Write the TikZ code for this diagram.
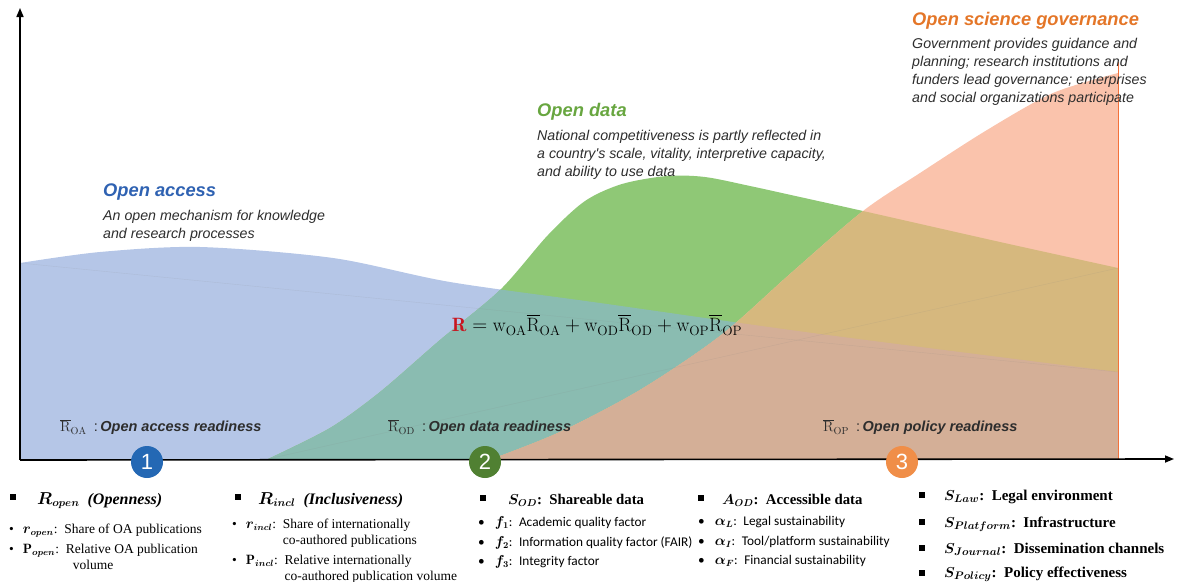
\documentclass[tikz,border=0pt]{standalone}
\usepackage{fontspec}
\usepackage{amsmath}
\usepackage{bm}
\usetikzlibrary{arrows.meta,positioning}
\newfontfamily\robo{Liberation Sans}
\newfontfamily\tnr{Liberation Serif}
\newfontfamily\cali{Carlito}

\definecolor{oaFill}{RGB}{181,198,231}
\definecolor{odFill}{RGB}{143,200,118}
\definecolor{opFill}{RGB}{250,195,172}
\definecolor{oaodMix}{RGB}{138,188,177}
\definecolor{odopMix}{RGB}{214,184,126}
\definecolor{allMix}{RGB}{212,175,151}
\definecolor{oaTitle}{RGB}{47,98,178}
\definecolor{odTitle}{RGB}{104,166,64}
\definecolor{opTitle}{RGB}{228,118,40}
\definecolor{oaDot}{RGB}{36,104,180}
\definecolor{odDot}{RGB}{80,128,50}
\definecolor{opDot}{RGB}{240,142,72}
\definecolor{txtgray}{RGB}{45,45,45}
\definecolor{rRed}{RGB}{200,20,30}

\newcommand{\oaShape}{(20,459) -- plot[smooth] coordinates {(20,263) (100,252) (200,247) (333,258) (450,282) (600,303) (820,334) (1118,372)} -- (1118,459) -- cycle}
\newcommand{\odShape}{plot[smooth] coordinates {(268,459) (330,428) (380,392) (440,340) (500,290) (548,235) (585,201) (622,184) (667,176) (705,177) (750,186) (800,197) (863,211) (1000,242) (1118,268)} -- (1118,459) -- cycle}
\newcommand{\opShape}{plot[smooth] coordinates {(492,459) (560,432) (640,390) (720,336) (790,274) (863,211) (920,173) (987,130) (1053,93) (1118,73)} -- (1118,459) -- cycle}

\tikzset{
  title/.style={anchor=west, inner sep=0pt, font=\robo\bfseries\itshape\fontsize{18.3}{20}\selectfont},
  desc/.style={anchor=north west, inner sep=0pt, align=left, text=txtgray, font=\robo\itshape\fontsize{14.2}{18}\selectfont},
  ready/.style={anchor=west, inner sep=0pt, text=txtgray, font=\fontsize{14.5}{16}\selectfont},
  stage/.style={circle, inner sep=0pt, minimum size=32pt, text=white, font=\robo\fontsize{22}{22}\selectfont},
  axis/.style={line width=1.6pt, -{Triangle[length=9pt,width=7pt]}},
  sqbul/.style={fill=black, inner sep=0pt, minimum size=6pt},
  head/.style={anchor=base west, inner sep=0pt, font=\tnr\bfseries\fontsize{16}{19}\selectfont},
  dhead/.style={head, font=\tnr\bfseries\fontsize{14.8}{18}\selectfont},
  phead/.style={head, font=\tnr\bfseries\fontsize{15}{18}\selectfont},
  item/.style={anchor=base west, inner sep=0pt, font=\tnr\fontsize{13.5}{16}\selectfont},
  citem/.style={anchor=base west, inner sep=0pt, font=\cali\fontsize{13.3}{16}\selectfont}
}

\begin{document}
\begin{tikzpicture}[x=1pt, y=-1pt]
\useasboundingbox (0,0) rectangle (1177,581);

% overlapping areas
\fill[oaFill] \oaShape;
\fill[odFill] \odShape;
\begin{scope}
  \clip \oaShape;
  \fill[oaodMix] \odShape;
\end{scope}
\fill[opFill] \opShape;
\begin{scope}
  \clip \opShape;
  \fill[odopMix] \odShape;
  \fill[allMix] \oaShape;
\end{scope}
\draw[gray, opacity=.15] (20,263) -- (1118,372);
\draw[gray, opacity=.15] (268,459) -- (1118,268);
\draw[opDot!80!red, line width=.8pt] (1118,62) -- (1118,459);

% axes
\coordinate (origin) at (20,460);
\coordinate (ytop) at (20,8);
\coordinate (xend) at (1174,459);
\draw[axis] (origin) -- (ytop);
\draw[axis] (origin) -- (xend);

\node[stage, fill=oaDot] (s1) at (147,462) {1};
\node[stage, fill=odDot] (s2) at (485,462) {2};
\node[stage, fill=opDot] (s3) at (902,462) {3};

% titles
\node[title, text=oaTitle] (oa) at (103,192) {Open access};
\node[desc] (oadesc) at (103,210) {An open mechanism for knowledge\\and research processes};
\node[title, text=odTitle] (od) at (537,112) {Open data};
\node[desc] (oddesc) at (537,130) {National competitiveness is partly reflected in\\a country's scale, vitality, interpretive capacity,\\and ability to use data};
\node[title, text=opTitle] (op) at (912,21) {Open science governance};
\node[desc] (opdesc) at (912,38) {Government provides guidance and\\planning; research institutions and\\funders lead governance; enterprises\\and social organizations participate};

\node[font=\fontsize{19.3}{22}\selectfont] (formula) at (597,325) {$\textcolor{rRed}{\mathbf{R}}=\mathrm{w}_{\mathrm{OA}}\overline{\mathrm{R}}_{\mathrm{OA}}+\mathrm{w}_{\mathrm{OD}}\overline{\mathrm{R}}_{\mathrm{OD}}+\mathrm{w}_{\mathrm{OP}}\overline{\mathrm{R}}_{\mathrm{OP}}$};

\node[ready] (roa) at (60,427) {$\overline{\mathrm{R}}_{\mathrm{OA}}$\enspace{\robo :\,\bfseries\itshape Open access readiness}};
\node[ready] (rod) at (388,427) {$\overline{\mathrm{R}}_{\mathrm{OD}}$\enspace{\robo :\,\bfseries\itshape Open data readiness}};
\node[ready] (rop) at (823,427) {$\overline{\mathrm{R}}_{\mathrm{OP}}$\enspace{\robo :\,\bfseries\itshape Open policy readiness}};

% openness
\node[sqbul] (sq1) at (13,497) {};
\node[head] (hopen) at (37,504) {$\bm{R_{open}}$\enspace\textit{(Openness)}};
\node[item] (iopen1) at (9,533) {\textbullet\hspace{9pt}$\bm{r_{open}}$:\enspace Share of OA publications};
\node[item] (iopen2) at (9,553) {\textbullet\hspace{9pt}$\mathbf{P}_{\bm{open}}$:\enspace\begin{tabular}[t]{@{}l@{}}Relative OA publication\\\hspace{7pt}volume\end{tabular}};

% inclusiveness
\node[sqbul] (sq2) at (238,497) {};
\node[head] (hincl) at (258,504) {$\bm{R_{incl}}$\enspace\textit{(Inclusiveness)}};
\node[item] (iincl1) at (232,528) {\textbullet\hspace{9pt}$\bm{r_{incl}}$:\enspace\begin{tabular}[t]{@{}l@{}}Share of internationally\\co-authored publications\end{tabular}};
\node[item] (iincl2) at (232,564) {\textbullet\hspace{9pt}$\mathbf{P}_{\bm{incl}}$:\enspace\begin{tabular}[t]{@{}l@{}}Relative internationally\\co-authored publication volume\end{tabular}};

% shareable data
\node[sqbul] (sq3) at (483,498) {};
\node[dhead] (hsod) at (508,504) {$\bm{S_{OD}}$:\enspace Shareable data};
\node[citem] (if1) at (478,526) {\textbullet\hspace{10pt}$\bm{f_1}$:\enspace Academic quality factor};
\node[citem] (if2) at (478,546) {\textbullet\hspace{10pt}$\bm{f_2}$:\enspace Information quality factor (FAIR)};
\node[citem] (if3) at (478,565) {\textbullet\hspace{10pt}$\bm{f_3}$:\enspace Integrity factor};

% accessible data
\node[sqbul] (sq4) at (701,498) {};
\node[dhead] (haod) at (722,504) {$\bm{A_{OD}}$:\enspace Accessible data};
\node[citem] (ial) at (698,525) {\textbullet\hspace{10pt}$\bm{\alpha_L}$:\enspace Legal sustainability};
\node[citem] (iai) at (698,545) {\textbullet\hspace{10pt}$\bm{\alpha_I}$:\enspace Tool/platform sustainability};
\node[citem] (iaf) at (698,564) {\textbullet\hspace{10pt}$\bm{\alpha_F}$:\enspace Financial sustainability};

% policy
\node[sqbul] (sq5) at (922,495) {};
\node[sqbul] (sq6) at (922,522) {};
\node[sqbul] (sq7) at (922,548) {};
\node[sqbul] (sq8) at (922,573) {};
\node[phead] (hlaw) at (944,500) {$\bm{S_{Law}}$:\enspace Legal environment};
\node[phead] (hplat) at (944,527) {$\bm{S_{Platform}}$:\enspace Infrastructure};
\node[phead] (hjour) at (944,553) {$\bm{S_{Journal}}$:\enspace Dissemination channels};
\node[phead] (hpol) at (944,577) {$\bm{S_{Policy}}$:\enspace Policy effectiveness};
\end{tikzpicture}
\end{document}
